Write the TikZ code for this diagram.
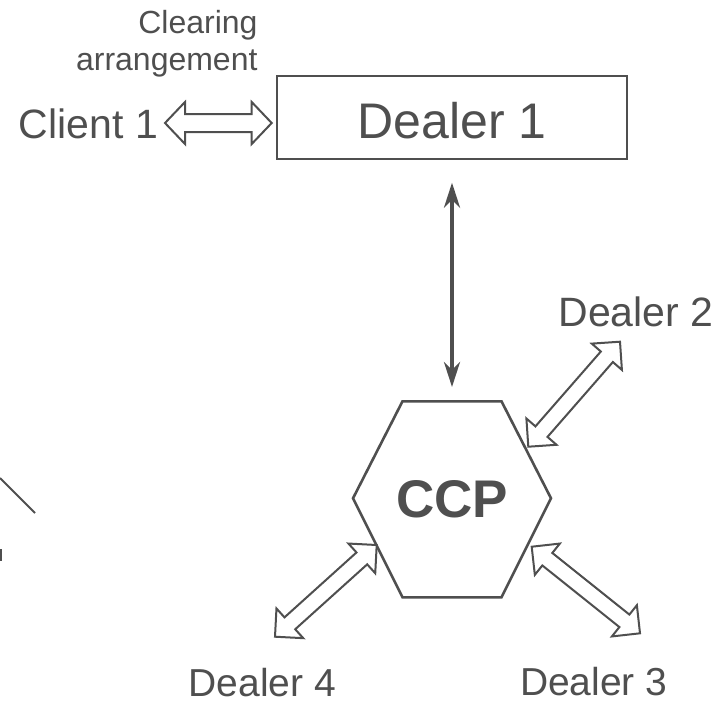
\documentclass[tikz,border=0pt]{standalone}
\usepackage{fontspec}
\setmainfont{Liberation Sans}
\usetikzlibrary{calc,arrows.meta}
\definecolor{ink}{HTML}{4F4F4F}

% outlined double-headed arrow between two tips:
% #1,#2 tips, #3 head length, #4 head half width, #5 shaft half width
\newcommand\hollowdbl[5]{%
  \draw[hollow] (#1)
    -- ($(#1)!#3!(#2)!#4!90:(#2)$) -- ($(#1)!#3!(#2)!#5!90:(#2)$)
    -- ($(#2)!#3!(#1)!#5!-90:(#1)$) -- ($(#2)!#3!(#1)!#4!-90:(#1)$)
    -- (#2)
    -- ($(#2)!#3!(#1)!#4!90:(#1)$) -- ($(#2)!#3!(#1)!#5!90:(#1)$)
    -- ($(#1)!#3!(#2)!#5!-90:(#2)$) -- ($(#1)!#3!(#2)!#4!-90:(#2)$)
    -- cycle;}

\tikzset{
  label/.style={text=ink, inner sep=0pt, outer sep=0pt},
  big/.style={label, font=\fontsize{41}{47}\selectfont},
  mid/.style={label, font=\fontsize{39}{45}\selectfont},
  small/.style={label, font=\fontsize{32}{37}\selectfont, align=right},
  dealerbox/.style={draw=ink, line width=2pt, minimum width=350pt, minimum height=83pt,
    inner sep=0pt, text height=41.6pt, text depth=0pt, text=ink,
    font=\fontsize{50}{60}\selectfont},
  hexline/.style={draw=ink, line width=2.6pt, line join=miter},
  hollow/.style={draw=ink, fill=white, line width=2pt, line join=miter},
  solidlink/.style={draw=ink, line width=4pt,
    {Stealth[length=25pt,width=16pt,inset=8pt]}-{Stealth[length=25pt,width=16pt,inset=8pt]}},
  stray/.style={draw=ink, line width=2pt},
}

\begin{document}
\begin{tikzpicture}[x=1pt, y=-1pt]
  \useasboundingbox (0,0) rectangle (728,702);

  % Dealer 1 and its client
  \node[dealerbox] (d1) at (452,117.5) {Dealer 1};
  \node[big, anchor=base west] (client) at (19,138.3) {Client 1};
  \node[small, anchor=base east] (clearing) at (257.5,70) {Clearing\\arrangement};

  % central counterparty
  \node[label, font=\fontsize{53}{60}\selectfont\bfseries] (ccp) at (452,499.3) {CCP};
  \coordinate (hL)  at ($(ccp)+(-99,-1)$);
  \coordinate (hTL) at ($(ccp)+(-49.5,-98)$);
  \coordinate (hTR) at ($(ccp)+(49.5,-98)$);
  \coordinate (hR)  at ($(ccp)+(99,-1)$);
  \coordinate (hBR) at ($(ccp)+(49.5,98)$);
  \coordinate (hBL) at ($(ccp)+(-49.5,98)$);
  \draw[hexline] (hL) -- (hTL) -- (hTR) -- (hR) -- (hBR) -- (hBL) -- cycle;
  \coordinate (hTop) at ($(hTL)!0.5!(hTR)$);

  % other dealers
  \node[big, anchor=base west] (d2) at (558.5,326.7) {Dealer 2};
  \node[mid, anchor=base west] (d3) at (520,695.5) {Dealer 3};
  \node[mid, anchor=base west] (d4) at (188.7,696.5) {Dealer 4};

  % Dealer 1 <-> CCP
  \draw[solidlink] ([yshift=-22.7pt]d1.south) -- ([yshift=14.3pt]hTop);

  % clearing arrangement arrow
  \coordinate (c1a) at (165,123);
  \coordinate (c1b) at (271.7,123);
  \hollowdbl{c1a}{c1b}{20pt}{21pt}{9pt}

  % dealer arrows
  \coordinate (d2a) at (528.3,446.7);
  \coordinate (d2b) at (620,341.7);
  \hollowdbl{d2a}{d2b}{20pt}{20pt}{8pt}

  \coordinate (d3a) at (531.7,546.7);
  \coordinate (d3b) at (640,633.3);
  \hollowdbl{d3a}{d3b}{20pt}{20pt}{8pt}

  \coordinate (d4a) at (376.7,545);
  \coordinate (d4b) at (275,636.7);
  \hollowdbl{d4a}{d4b}{20pt}{20pt}{8pt}

  % stray strokes at the left edge
  \coordinate (s1) at (0,478);
  \coordinate (s2) at (35,513);
  \draw[stray] (s1) -- (s2);
  \coordinate (s3) at (0.8,549);
  \coordinate (s4) at (0.8,561);
  \draw[stray, line width=1.5pt] (s3) -- (s4);
\end{tikzpicture}
\end{document}
